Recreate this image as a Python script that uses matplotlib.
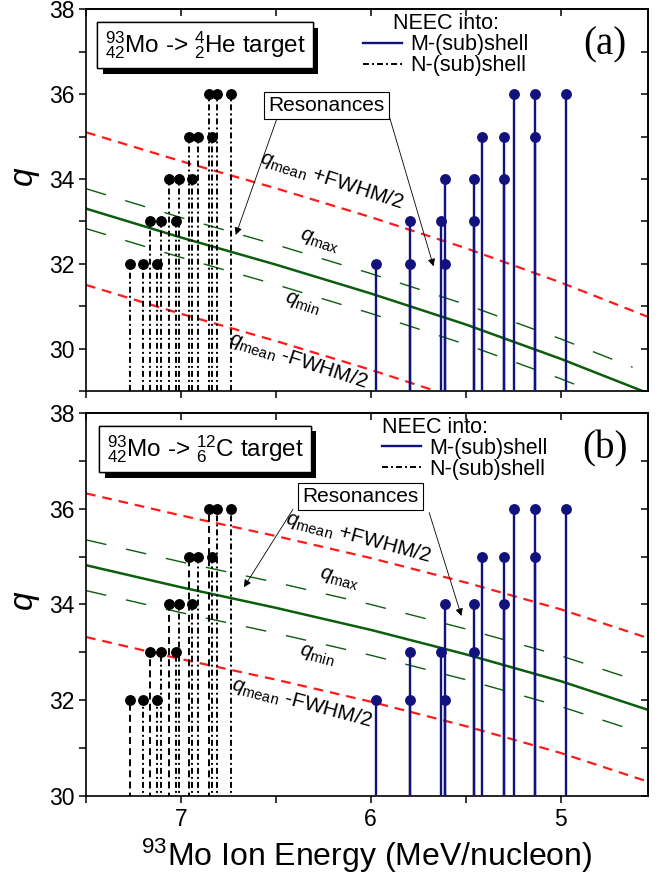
import matplotlib
matplotlib.use('Agg')
import matplotlib.pyplot as plt
import matplotlib.patheffects as pe
from matplotlib.lines import Line2D
from matplotlib.ticker import MultipleLocator, FixedLocator

plt.rcParams['font.family'] = ['Liberation Sans', 'DejaVu Sans']
plt.rcParams['mathtext.fontset'] = 'custom'
plt.rcParams['mathtext.rm'] = 'Liberation Sans'
plt.rcParams['mathtext.it'] = 'Liberation Sans:italic'
plt.rcParams['mathtext.bf'] = 'Liberation Sans:bold'
plt.rcParams['lines.scale_dashes'] = False

# NEEC resonances into the N-(sub)shell: ion energy (MeV/nucleon), charge state
n_energy = [7.267, 7.200, 7.165, 7.128, 7.104, 7.061, 7.026, 7.009,
            6.960, 6.939, 6.909, 6.854, 6.838, 6.809, 6.737]
n_q = [32, 32, 33, 32, 33, 34, 33, 34, 35, 34, 35, 36, 35, 36, 36]

# NEEC resonances into the M-(sub)shell
m_energy = [5.974, 5.793, 5.793, 5.628, 5.609, 5.609, 5.458, 5.458,
            5.412, 5.296, 5.296, 5.247, 5.132, 5.132, 4.970]
m_q = [32, 32, 33, 33, 32, 34, 33, 34, 35, 34, 35, 36, 35, 36, 36]

# charge state distribution vs energy
e_grid = [7.5, 7.0, 6.5, 6.0, 5.5, 5.0, 4.54]
e_grid_short = [7.5, 7.0, 6.5, 6.0, 5.5, 5.0, 4.62]

he_mean = [33.30, 32.62, 31.98, 31.30, 30.57, 29.76, 28.95]
he_max = [33.77, 33.09, 32.45, 31.77, 31.04, 30.23, 29.56]
he_min = [32.83, 32.15, 31.51, 30.83, 30.10, 29.29, 28.62]
he_upper = [35.10, 34.42, 33.78, 33.10, 32.37, 31.56, 30.75]
he_lower = [31.50, 30.82, 30.18, 29.50, 28.77, 27.96, 27.15]

c_mean = [34.82, 34.36, 33.93, 33.47, 32.96, 32.40, 31.80]
c_max = [35.35, 34.89, 34.46, 34.00, 33.49, 32.93, 32.44]
c_min = [34.29, 33.83, 33.40, 32.94, 32.43, 31.87, 31.38]
c_upper = [36.32, 35.86, 35.43, 34.97, 34.46, 33.90, 33.30]
c_lower = [33.32, 32.86, 32.43, 31.97, 31.46, 30.90, 30.30]

NAVY = '#12127e'
RED = '#ff1a1a'
GREEN = '#0b5e0b'
DASHDOT = (0, (4.3, 2.2, 1.4, 2.2))
DASHED = (0, (5, 3))

panels = [
    dict(target=r'$^{93}_{42}$Mo -> $^{4}_{2}$He target', tag='(a)', ylim=(29, 38),
         lines=(he_mean, he_max, he_min, he_upper, he_lower),
         n_styles=[DASHDOT] * len(n_energy),
         rot=-18, ylabel_y=0.56, leg_x=0.493, leg_align='center',
         res=(6.233, 35.73), arrows=[((6.497, 35.39), (6.711, 32.68)),
                                     ((5.899, 35.43), (5.669, 31.94))],
         lab_up=(6.205, 33.98), lab_max=(6.27, 32.54),
         lab_min=(6.36, 31.06), lab_low=(6.38, 29.72)),
    dict(target=r'$^{93}_{42}$Mo -> $^{12}_{6}$C target', tag='(b)', ylim=(30, 38),
         lines=(c_mean, c_max, c_min, c_upper, c_lower),
         n_styles=[DASHED if i in (0, 2, 5, 8, 11) else DASHDOT
                   for i in range(len(n_energy))],
         rot=-15, ylabel_y=0.51, leg_x=0.527, leg_align='left',
         res=(6.055, 36.26), arrows=[((6.409, 35.99), (6.668, 34.36)),
                                     ((5.692, 35.92), (5.522, 33.76))],
         lab_up=(6.066, 35.40), lab_max=(6.165, 34.52),
         lab_min=(6.284, 32.93), lab_low=(6.363, 31.94)),
]

fig = plt.figure(figsize=(6.72, 8.86), dpi=100)
axes = [fig.add_axes([0.128, 0.5587, 0.836, 0.4308]),
        fig.add_axes([0.128, 0.1016, 0.836, 0.4323])]

for ax, p in zip(axes, panels):
    q_mean, q_max, q_min, q_up, q_low = p['lines']
    ax.plot(e_grid, q_mean, color=GREEN, lw=1.8, zorder=2)
    ax.plot(e_grid_short, q_max, color=GREEN, lw=1.0, ls=(0, (15, 14.5)), zorder=2)
    ax.plot(e_grid_short, q_min, color=GREEN, lw=1.0, ls=(0, (15, 14.5)), zorder=2)
    ax.plot(e_grid, q_up, color=RED, lw=1.6, ls=(0, (7, 5)), zorder=2)
    ax.plot(e_grid, q_low, color=RED, lw=1.6, ls=(0, (7, 5)), zorder=2)

    base = p['ylim'][0] - 1
    ax.vlines(n_energy, base, n_q, colors='black', lw=1.4,
              linestyles=p['n_styles'], zorder=3)
    ax.plot(n_energy, n_q, 'o', color='black', ms=6.8, zorder=4)
    ax.vlines(m_energy, base, m_q, colors=NAVY, lw=1.7, zorder=3)
    ax.plot(m_energy, m_q, 'o', color=NAVY, ms=6.8, zorder=4)

    ax.set_xlim(7.5, 4.54)
    ax.set_ylim(*p['ylim'])

    # text labels along the lines
    rot = p['rot']
    ax.text(*p['lab_up'], r'$q_{\mathrm{mean}}$ +FWHM/2', fontsize=15,
            rotation=rot, ha='center', va='center', rotation_mode='anchor')
    ax.text(*p['lab_max'], r'$q_{\mathrm{max}}$', fontsize=15,
            rotation=rot, ha='center', va='center', rotation_mode='anchor')
    ax.text(*p['lab_min'], r'$q_{\mathrm{min}}$', fontsize=15,
            rotation=rot, ha='center', va='center', rotation_mode='anchor')
    ax.text(*p['lab_low'], r'$q_{\mathrm{mean}}$ -FWHM/2', fontsize=15,
            rotation=rot, ha='center', va='center', rotation_mode='anchor')

    ax.text(*p['res'], 'Resonances', fontsize=15, ha='center', va='center', zorder=6,
            bbox=dict(boxstyle='square,pad=0.2', fc='white', ec='black', lw=0.8))
    for tail, head in p['arrows']:
        ax.annotate('', xy=head, xytext=tail, zorder=6,
                    arrowprops=dict(arrowstyle='-|>', lw=0.6, color='black',
                                    mutation_scale=11, shrinkA=0, shrinkB=0))

    t = ax.text(0.212, 0.906, p['target'], transform=ax.transAxes, fontsize=17.5,
                ha='center', va='center', zorder=7,
                bbox=dict(boxstyle='square,pad=0.3', fc='white', ec='black', lw=1.0))
    t.get_bbox_patch().set_path_effects([
        pe.withSimplePatchShadow(offset=(4, -4), shadow_rgbFace='black', alpha=1.0),
        pe.Normal()])

    ax.text(0.923, 0.906, p['tag'], transform=ax.transAxes, fontsize=28,
            family=['Liberation Serif', 'DejaVu Serif'], ha='center', va='center')

    handles = [Line2D([], [], color=NAVY, lw=1.7),
               Line2D([], [], color='black', lw=1.4, ls=DASHDOT)]
    ax.legend(handles, ['M-(sub)shell', 'N-(sub)shell'], title='NEEC into:',
              loc='upper left', bbox_to_anchor=(p['leg_x'], 0.99),
              frameon=False, fontsize=15.5, title_fontsize=15.5,
              handlelength=1.8, handletextpad=0.4, labelspacing=0.0,
              borderpad=0.0, borderaxespad=0.0, alignment=p['leg_align'])

    # ticks: outward on left/bottom, inward on right/top
    ax.xaxis.set_major_locator(FixedLocator([7, 6, 5]))
    ax.xaxis.set_minor_locator(FixedLocator([7.5, 6.5, 5.5, 4.5]))
    ax.yaxis.set_major_locator(MultipleLocator(2))
    ax.yaxis.set_minor_locator(MultipleLocator(1))
    ax.tick_params(which='both', direction='out', length=5, width=1.1,
                   labelsize=16.5, top=False, right=False)
    sx = ax.secondary_xaxis('top')
    sx.xaxis.set_major_locator(FixedLocator([7, 6, 5]))
    sx.xaxis.set_minor_locator(FixedLocator([7.5, 6.5, 5.5, 4.5]))
    sx.tick_params(which='both', direction='in', length=5, width=1.1, labeltop=False)
    sy = ax.secondary_yaxis('right')
    sy.yaxis.set_major_locator(MultipleLocator(2))
    sy.yaxis.set_minor_locator(MultipleLocator(1))
    sy.tick_params(which='both', direction='in', length=5, width=1.1, labelright=False)
    for s in list(ax.spines.values()) + list(sx.spines.values()) + list(sy.spines.values()):
        s.set_linewidth(1.2)

    ax.set_ylabel(r'$q$', fontsize=24)
    ax.yaxis.set_label_coords(-0.078, p['ylabel_y'])

axes[0].tick_params(labelbottom=False)
axes[1].set_xlabel(r'$^{93}$Mo Ion Energy (MeV/nucleon)', fontsize=23, labelpad=4)

fig.savefig('out.png', dpi=100)
